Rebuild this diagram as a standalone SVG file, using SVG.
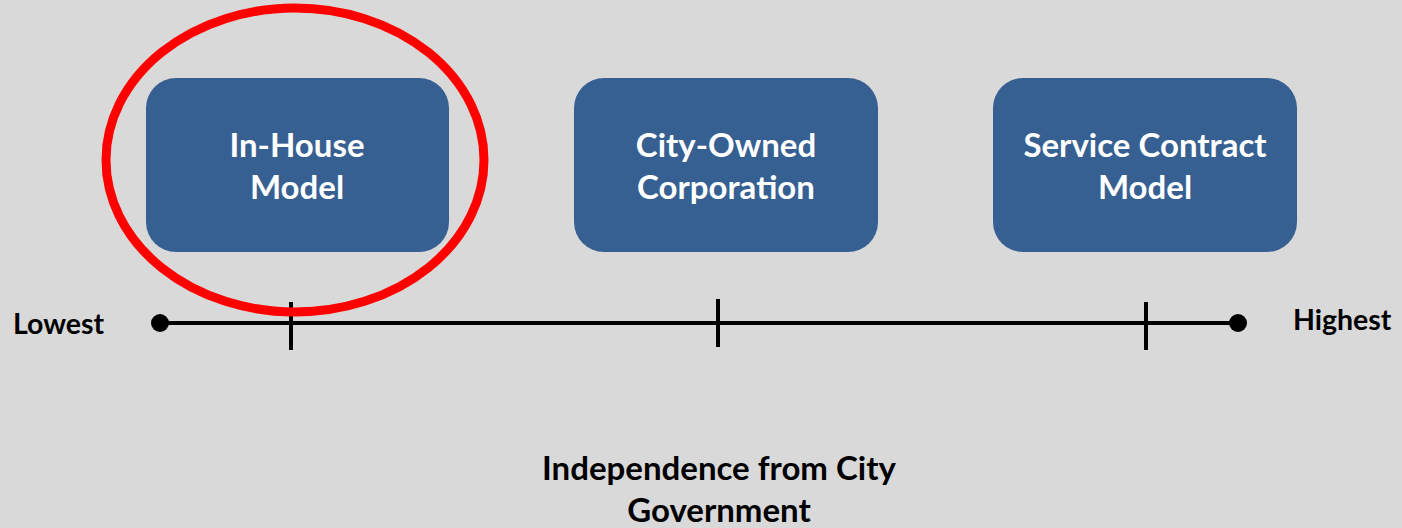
<svg xmlns="http://www.w3.org/2000/svg" width="1402" height="528" viewBox="0 0 1402 528">
<style>
.box{fill:#376092;}
.bt{font-family:Lato,"Open Sans",sans-serif;font-weight:bold;font-size:33px;fill:#ffffff;text-anchor:middle;}
.lt{font-family:Lato,"Open Sans",sans-serif;font-weight:bold;font-size:28.5px;fill:#000000;}
.ct{font-family:Lato,"Open Sans",sans-serif;font-weight:bold;font-size:33px;fill:#000000;text-anchor:middle;}
.ax{stroke:#000;stroke-width:4;fill:none;}
</style>
<rect width="1402" height="528" fill="#d9d9d9"/>
<g id="node-inhouse">
<rect class="box" x="146" y="78" width="303" height="174" rx="30"/>
<text class="bt" x="297" y="157">In-House</text>
<text class="bt" x="297" y="199">Model</text>
</g>
<g id="node-cityowned">
<rect class="box" x="574" y="78" width="304" height="174" rx="30"/>
<text class="bt" x="726" y="157">City-Owned</text>
<text class="bt" x="726" y="199">Corporation</text>
</g>
<g id="node-service">
<rect class="box" x="993" y="78" width="304" height="174" rx="30"/>
<text class="bt" x="1145" y="157">Service Contract</text>
<text class="bt" x="1145" y="199">Model</text>
</g>
<g id="connectors">
<line class="ax" x1="160" y1="323" x2="1238" y2="323"/>
<circle cx="160" cy="323" r="9" fill="#000"/>
<circle cx="1238" cy="323" r="9" fill="#000"/>
<line class="ax" x1="291" y1="302" x2="291" y2="350"/>
<line class="ax" x1="718" y1="299" x2="718" y2="347"/>
<line class="ax" x1="1146" y1="302" x2="1146" y2="350"/>
</g>
<g id="highlight">
<ellipse cx="295" cy="160" rx="189" ry="152" fill="none" stroke="#ff0000" stroke-width="9"/>
</g>
<g id="labels">
<text class="lt" x="13" y="334">Lowest</text>
<text class="lt" x="1293" y="330">Highest</text>
<text class="ct" x="719" y="480">Independence from City</text>
<text class="ct" x="719" y="522">Government</text>
</g>
</svg>
